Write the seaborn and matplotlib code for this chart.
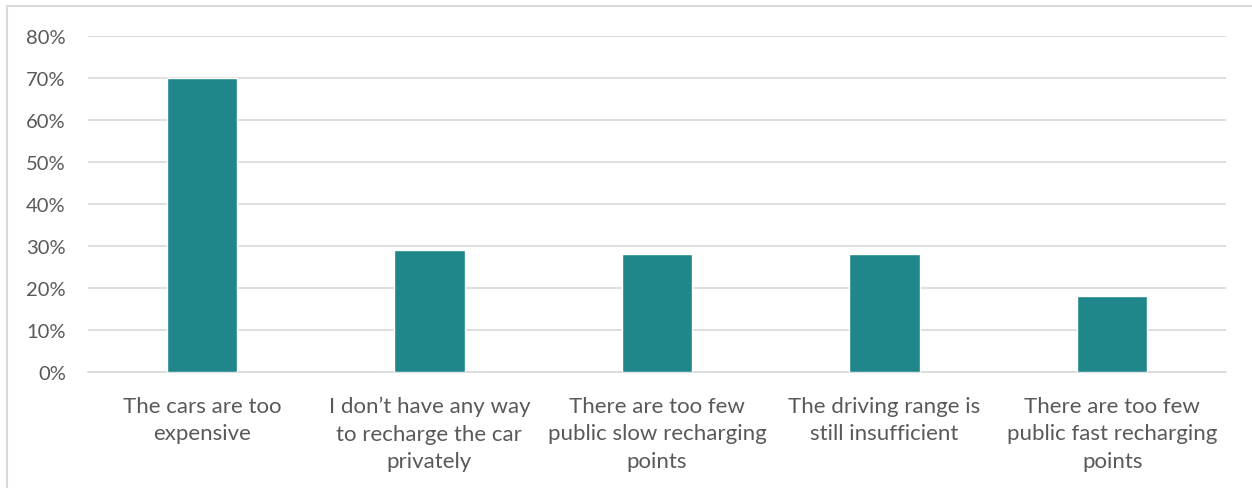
import matplotlib
matplotlib.use('Agg')
import matplotlib.pyplot as plt
import seaborn as sns
import pandas as pd
from matplotlib.patches import Rectangle
from matplotlib.ticker import PercentFormatter

# chart values
reasons = [
    'The cars are too\nexpensive',
    'I don\u2019t have any way\nto recharge the car\nprivately',
    'There are too few\npublic slow recharging\npoints',
    'The driving range is\nstill insufficient',
    'There are too few\npublic fast recharging\npoints',
]
shares = [70, 29, 28, 28, 18]

data = pd.DataFrame({'reason': reasons, 'share': shares})

sns.set_style('white')
plt.rcParams['font.family'] = ['Lato', 'DejaVu Sans']

fig = plt.figure(figsize=(12.52, 4.89), dpi=100)
ax = fig.add_axes([88 / 1252, 1 - 373 / 489, (1226 - 88) / 1252, (373 - 37) / 489])

sns.barplot(data=data, x='reason', y='share', color='#1F878A', width=0.31,
            saturation=1, ax=ax, zorder=3)

ax.set_ylim(0, 80)
ax.set_yticks(range(0, 81, 10))
ax.yaxis.set_major_formatter(PercentFormatter(decimals=0))
ax.grid(axis='y', color='#D9D9D9', linewidth=1.2, zorder=0)
ax.set_xlabel('')
ax.set_ylabel('')
for side in ['top', 'right', 'left']:
    ax.spines[side].set_visible(False)
ax.spines['bottom'].set_color('#D9D9D9')
ax.spines['bottom'].set_linewidth(1.2)
ax.tick_params(axis='both', length=0, colors='#595959')
ax.tick_params(axis='y', pad=16, labelsize=14.5)
ax.tick_params(axis='x', pad=17, labelsize=16)
for lbl in ax.get_xticklabels():
    lbl.set_linespacing(1.48)

# light frame around the chart
fig.patches.append(Rectangle((6.5 / 1252, -0.1), 1.2, 1 - 7 / 489 + 0.1,
                             transform=fig.transFigure, fill=False,
                             edgecolor='#D9D9D9', linewidth=1.5))

fig.savefig('out.png', dpi=100)
